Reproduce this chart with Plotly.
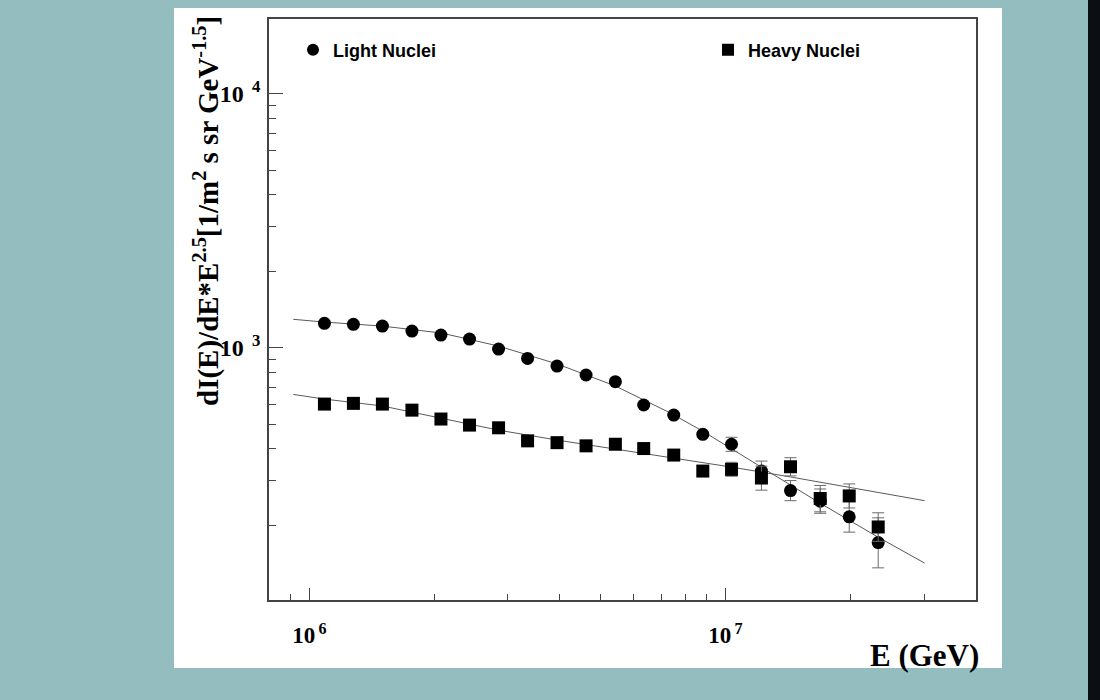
import plotly.graph_objects as go

# ---------------- data ----------------
energy = [1.087e6, 1.276e6, 1.498e6, 1.764e6, 2.071e6, 2.426e6, 2.849e6, 3.345e6,
          3.937e6, 4.623e6, 5.437e6, 6.36e6, 7.51e6, 8.82e6, 1.034e7, 1.22e7,
          1.433e7, 1.689e7, 1.983e7, 2.328e7]

light = [1248, 1236, 1217, 1163, 1122, 1082, 988, 908, 847, 781, 735, 595, 543,
         456, 417, 327, 274, 249, 216, 171]
light_err_up = [0, 0, 0, 0, 0, 0, 0, 0, 0, 0, 0, 0, 0, 8, 27, 31, 26, 29, 32, 43]
light_err_dn = [0, 0, 0, 0, 0, 0, 0, 0, 0, 0, 0, 0, 0, 8, 26, 28, 24, 26, 28, 35]

heavy = [600, 604, 600, 568, 524, 496, 484, 430, 423, 411, 417, 401, 378,
         327, 332, 307, 340, 255, 261, 197]
heavy_err_up = [0, 0, 0, 0, 0, 0, 0, 0, 0, 0, 0, 0, 0, 15, 22, 35, 29, 32, 30, 27]
heavy_err_dn = [0, 0, 0, 0, 0, 0, 0, 0, 0, 0, 0, 0, 0, 14, 20, 32, 27, 29, 27, 24]

# fitted curves
fit_light_e = [9.15e5, 1.085e6, 1.496e6, 2.074e6, 2.844e6, 3.942e6, 5.437e6, 6.387e6,
               7.376e6, 8.806e6, 1.034e7, 1.221e7, 1.433e7, 1.684e7, 1.977e7, 2.321e7, 3.01e7]
fit_light_v = [1294, 1262, 1217, 1143, 1016, 863, 707, 622, 553, 470, 399, 339,
               288, 245, 210, 180, 142]

fit_heavy_e = [9.15e5, 1.085e6, 1.496e6, 2.074e6, 2.844e6, 3.942e6, 5.437e6, 7.376e6,
               1.034e7, 1.433e7, 1.977e7, 3.01e7]
fit_heavy_v = [655, 628, 590, 529, 474, 433, 399, 371, 339, 310, 283, 250]

# axis ticks
x_major = [1e6, 1e7]
x_major_text = ["<b>10</b><sup><b>\u20096</b></sup>", "<b>10</b><sup><b>\u20097</b></sup>"]
x_minor = [9e5, 2e6, 3e6, 4e6, 5e6, 6e6, 7e6, 8e6, 9e6, 2e7, 3e7]
y_major = [1e3, 1e4]
y_major_text = ["<b>10</b><sup><b>\u20023</b></sup>",
                "<b>10</b><sup><b>\u20024</b></sup>"]
y_minor = [200, 300, 400, 500, 600, 700, 800, 900,
           2000, 3000, 4000, 5000, 6000, 7000, 8000, 9000]

x_title = "<b>E (GeV)</b>"
y_title = "<b>dI(E)/dE*E<sup>2.5</sup>[1/m<sup>2</sup> s sr GeV<sup>-1.5</sup>]</b>"
legend_names = ["<b>Light Nuclei</b>", "<b>Heavy Nuclei</b>"]

# ---------------- figure ----------------
TEAL = "#93BDBF"
SERIF = "Liberation Serif, Times New Roman, serif"
SANS = "Liberation Sans, Arial, sans-serif"

fig = go.Figure()

fig.add_trace(go.Scatter(x=fit_light_e, y=fit_light_v, mode="lines",
                         line=dict(color="#5a5a5a", width=1), showlegend=False,
                         hoverinfo="skip"))
fig.add_trace(go.Scatter(x=fit_heavy_e, y=fit_heavy_v, mode="lines",
                         line=dict(color="#5a5a5a", width=1), showlegend=False,
                         hoverinfo="skip"))

fig.add_trace(go.Scatter(
    x=energy, y=light, mode="markers", name=legend_names[0],
    marker=dict(symbol="circle", size=13, color="black"),
    error_y=dict(type="data", symmetric=False, array=light_err_up,
                 arrayminus=light_err_dn, color="#6a6a6a", thickness=1, width=6),
    legend="legend"))
fig.add_trace(go.Scatter(
    x=energy, y=heavy, mode="markers", name=legend_names[1],
    marker=dict(symbol="square", size=13, color="black"),
    error_y=dict(type="data", symmetric=False, array=heavy_err_up,
                 arrayminus=heavy_err_dn, color="#6a6a6a", thickness=1, width=6),
    legend="legend2"))

L, R, T, B = 269, 124, 19, 100
W, H = 1100, 700
pw, ph = W - L - R, H - T - B


def px2x(px):
    return (px - L) / pw


def py2y(py):
    return (H - B - py) / ph


legend_common = dict(orientation="v", bgcolor="rgba(0,0,0,0)", borderwidth=0,
                     font=dict(family=SANS, size=18, color="black"),
                     itemsizing="constant", yanchor="middle", xanchor="left")

fig.update_layout(
    width=W, height=H,
    margin=dict(l=L, r=R, t=T, b=B, pad=0),
    paper_bgcolor=TEAL,
    plot_bgcolor="white",
    legend=dict(x=px2x(293), y=py2y(50), **legend_common),
    legend2=dict(x=px2x(708), y=py2y(50), **legend_common),
    xaxis=dict(type="log", range=[5.903, 7.602],
               showgrid=False, zeroline=False,
               showline=True, linecolor="#444", linewidth=1.5, mirror=True,
               ticks="inside", ticklen=12, tickwidth=1.2, tickcolor="#444",
               tickvals=x_major, ticktext=x_major_text,
               tickfont=dict(family=SERIF, size=23, color="black"),
               ticklabelstandoff=14,
               minor=dict(tickvals=x_minor, ticks="inside", ticklen=6,
                          tickwidth=1, tickcolor="#444", showgrid=False)),
    yaxis=dict(type="log", range=[2.007, 4.294],
               showgrid=False, zeroline=False,
               showline=True, linecolor="#444", linewidth=1.5, mirror=True,
               ticks="inside", ticklen=14, tickwidth=1.2, tickcolor="#444",
               tickvals=y_major, ticktext=y_major_text,
               tickfont=dict(family=SERIF, size=24, color="black"),
               ticklabelstandoff=2,
               minor=dict(tickvals=y_minor, ticks="inside", ticklen=7,
                          tickwidth=1, tickcolor="#444", showgrid=False)),
    shapes=[
        dict(type="rect", xref="paper", yref="paper", layer="below",
             x0=px2x(174), x1=px2x(1002), y0=py2y(668), y1=py2y(8),
             fillcolor="white", line=dict(width=0)),
        dict(type="rect", xref="paper", yref="paper", layer="above",
             x0=px2x(1088), x1=px2x(1101), y0=py2y(701), y1=py2y(-1),
             fillcolor="#0b0f14", line=dict(width=0)),
    ],
    annotations=[
        dict(text=y_title, xref="paper", yref="paper", x=px2x(207), y=py2y(211),
             xanchor="center", yanchor="middle", textangle=-90, showarrow=False,
             font=dict(family=SERIF, size=29, color="black")),
        dict(text=x_title, xref="paper", yref="paper", x=px2x(981), y=py2y(655),
             xanchor="right", yanchor="middle", showarrow=False,
             font=dict(family=SERIF, size=31, color="black")),
    ],
)

fig.write_html(
    "out.html",
    config={"displayModeBar": False},
    post_script="document.body.style.margin='0';"
                "document.body.style.padding='0';"
                "document.body.style.background='" + TEAL + "';",
)
